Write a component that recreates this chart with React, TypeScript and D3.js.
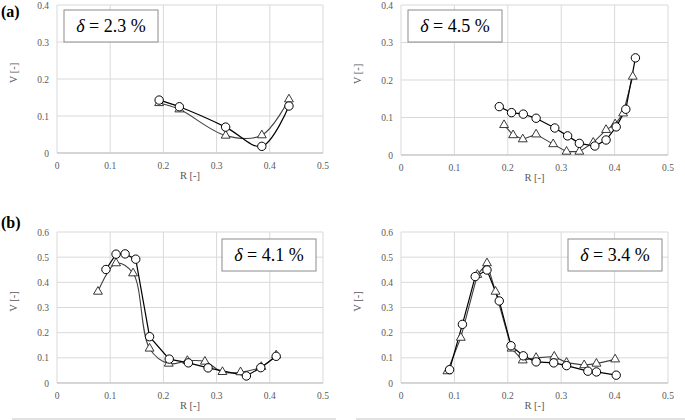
import React from 'react';
import * as d3 from 'd3';

// panel (a) left, delta = 2.3 %
const a1CircleR = [0.192, 0.230, 0.317, 0.385, 0.436];
const a1CircleV = [0.143, 0.125, 0.070, 0.018, 0.127];
const a1TriR = [0.192, 0.230, 0.317, 0.385, 0.436];
const a1TriV = [0.135, 0.118, 0.047, 0.048, 0.145];

// panel (a) right, delta = 4.5 %
const a2CircleR = [0.184, 0.207, 0.229, 0.253, 0.288, 0.312, 0.334, 0.363, 0.384, 0.403, 0.421, 0.439];
const a2CircleV = [0.129, 0.113, 0.109, 0.098, 0.072, 0.051, 0.031, 0.024, 0.040, 0.075, 0.122, 0.259];
const a2TriR = [0.193, 0.210, 0.228, 0.253, 0.285, 0.310, 0.334, 0.360, 0.384, 0.401, 0.416, 0.434];
const a2TriV = [0.080, 0.053, 0.042, 0.055, 0.029, 0.009, 0.009, 0.033, 0.067, 0.082, 0.111, 0.209];

// panel (b) left, delta = 4.1 %
const b1CircleR = [0.092, 0.111, 0.128, 0.148, 0.174, 0.211, 0.247, 0.284, 0.356, 0.383, 0.412];
const b1CircleV = [0.451, 0.512, 0.513, 0.492, 0.184, 0.095, 0.080, 0.060, 0.028, 0.061, 0.106];
const b1TriR = [0.077, 0.111, 0.143, 0.174, 0.210, 0.245, 0.278, 0.311, 0.345, 0.384, 0.412];
const b1TriV = [0.363, 0.476, 0.436, 0.137, 0.077, 0.088, 0.085, 0.044, 0.043, 0.064, 0.110];

// panel (b) right, delta = 3.4 %
const b2CircleR = [0.091, 0.115, 0.139, 0.161, 0.184, 0.206, 0.229, 0.253, 0.286, 0.310, 0.350, 0.366, 0.403];
const b2CircleV = [0.053, 0.233, 0.423, 0.449, 0.326, 0.148, 0.108, 0.084, 0.080, 0.069, 0.047, 0.044, 0.031];
const b2TriR = [0.087, 0.112, 0.143, 0.161, 0.177, 0.207, 0.228, 0.253, 0.287, 0.310, 0.343, 0.366, 0.401];
const b2TriV = [0.047, 0.180, 0.430, 0.476, 0.363, 0.137, 0.090, 0.100, 0.105, 0.081, 0.071, 0.077, 0.094];

const xTicks = [0, 0.1, 0.2, 0.3, 0.4, 0.5];
const yTicksA = [0, 0.1, 0.2, 0.3, 0.4];
const yTicksB = [0, 0.1, 0.2, 0.3, 0.4, 0.5, 0.6];

const serifStyle = { fontFamily: "'Liberation Serif', 'Times New Roman', Times, serif" };

type Pt = [number, number];
const zip = (xs: number[], ys: number[]): Pt[] => xs.map((x, i) => [x, ys[i]]);

interface PanelProps {
  left: number; right: number; top: number; bottom: number;
  yMax: number; yTicks: number[];
  circles: Pt[]; tris: Pt[];
  circleSmooth: boolean; triSmooth: boolean;
  label: string; box: [number, number];
}

const Panel: React.FC<PanelProps> = (p) => {
  const x = d3.scaleLinear().domain([0, 0.5]).range([p.left, p.right]);
  const y = d3.scaleLinear().domain([0, p.yMax]).range([p.bottom, p.top]);
  const mk = (smooth: boolean) => d3.line<Pt>()
    .x(d => x(d[0])).y(d => y(d[1]))
    .curve(smooth ? d3.curveCatmullRom.alpha(0.5) : d3.curveLinear);
  const tri = d3.symbol(d3.symbolTriangle, 34)();
  const midY = (p.top + p.bottom) / 2;
  return (
    <g style={serifStyle}>
      {xTicks.map(t => (
        <line key={'gx' + t} x1={x(t)} x2={x(t)} y1={p.top} y2={p.bottom} stroke="#d9d9d9" strokeWidth={1} />
      ))}
      {p.yTicks.map(t => (
        <line key={'gy' + t} x1={p.left} x2={p.right} y1={y(t)} y2={y(t)} stroke="#d9d9d9" strokeWidth={1} />
      ))}
      <line x1={p.left} x2={p.right} y1={p.bottom} y2={p.bottom} stroke="#bfbfbf" strokeWidth={1} />
      {xTicks.map(t => (
        <text key={'tx' + t} x={x(t)} y={p.bottom + 16} textAnchor="middle" fontSize={9.5} fill="#595959">{t}</text>
      ))}
      {p.yTicks.map(t => (
        <text key={'ty' + t} x={p.left - 8} y={y(t) + 3.5} textAnchor="end" fontSize={9.5} fill="#595959">{t}</text>
      ))}
      <text x={(p.left + p.right) / 2} y={p.bottom + 26} textAnchor="middle" fontSize={10.5} fill="#595959">R [-]</text>
      <text transform={`translate(${p.left - 40},${midY - 6}) rotate(-90)`} textAnchor="middle" fontSize={10.5} fill="#595959">V [-]</text>

      <path d={mk(p.triSmooth)(p.tris) || ''} fill="none" stroke="#404040" strokeWidth={1.1} />
      <path d={mk(p.circleSmooth)(p.circles) || ''} fill="none" stroke="#000" strokeWidth={1.2} />
      {p.tris.map((d, i) => (
        <path key={'t' + i} d={tri || ''} transform={`translate(${x(d[0])},${y(d[1])})`} fill="#fff" stroke="#222" strokeWidth={0.9} />
      ))}
      {p.circles.map((d, i) => (
        <circle key={'c' + i} cx={x(d[0])} cy={y(d[1])} r={4.2} fill="#fff" stroke="#000" strokeWidth={1} />
      ))}

      <rect x={p.box[0]} y={p.box[1]} width={94} height={32} fill="#fff" stroke="#8c8c8c" strokeWidth={1} />
      <text x={p.box[0] + 47} y={p.box[1] + 22} textAnchor="middle" fontSize={18} fill="#000">
        <tspan fontStyle="italic">δ</tspan> = {p.label} %
      </text>
    </g>
  );
};

export default function App() {
  return (
    <svg width={685} height={420} style={{ position: 'absolute', left: 0, top: 0, background: '#fff' }}>
      <rect width={685} height={420} fill="#fff" />
      <text x={1} y={17} fontSize={16} fontWeight="bold" style={serifStyle}>(a)</text>
      <text x={1} y={228} fontSize={16} fontWeight="bold" style={serifStyle}>(b)</text>

      <Panel left={57} right={323} top={5} bottom={153} yMax={0.4} yTicks={yTicksA}
        circles={zip(a1CircleR, a1CircleV)} tris={zip(a1TriR, a1TriV)}
        circleSmooth={true} triSmooth={true} label="2.3" box={[64, 10]} />
      <Panel left={401} right={668} top={5} bottom={155} yMax={0.4} yTicks={yTicksA}
        circles={zip(a2CircleR, a2CircleV)} tris={zip(a2TriR, a2TriV)}
        circleSmooth={false} triSmooth={false} label="4.5" box={[408, 10]} />
      <Panel left={57} right={323} top={232} bottom={383} yMax={0.6} yTicks={yTicksB}
        circles={zip(b1CircleR, b1CircleV)} tris={zip(b1TriR, b1TriV)}
        circleSmooth={false} triSmooth={true} label="4.1" box={[222, 239]} />
      <Panel left={401} right={668} top={232} bottom={383} yMax={0.6} yTicks={yTicksB}
        circles={zip(b2CircleR, b2CircleV)} tris={zip(b2TriR, b2TriV)}
        circleSmooth={false} triSmooth={false} label="3.4" box={[568, 239]} />

      <line x1={12} x2={336} y1={419} y2={419} stroke="#d9d9d9" strokeWidth={1.5} />
      <line x1={356} x2={685} y1={419} y2={419} stroke="#d9d9d9" strokeWidth={1.5} />
    </svg>
  );
}
